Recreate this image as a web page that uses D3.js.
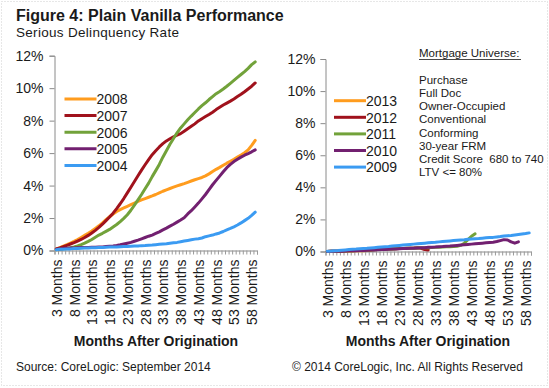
<!DOCTYPE html>
<html>
<head>
<meta charset="utf-8">
<script src="https://cdn.jsdelivr.net/npm/d3@7"></script>
<style>
  body { margin: 0; background: #fff; }
  text { font-family: "Liberation Sans", Arial, sans-serif; fill: #1a1a1a; }
</style>
</head>
<body>
<div id="chart"></div>
<script>
// month categories 3..59 (months after origination)
var months = d3.range(3, 60);
var tickMonths = [3, 8, 13, 18, 23, 28, 33, 38, 43, 48, 53, 58];
var yTicks = [0, 2, 4, 6, 8, 10, 12];

var leftNames = ["2008", "2007", "2006", "2005", "2004"];
var rightNames = ["2013", "2012", "2011", "2010", "2009"];
var colors = ["#FF9C1E", "#A0121C", "#72A23A", "#722070", "#3B9BF2"];

// serious delinquency rate, %, one value per month starting at month 3
var d2008 = [0.10,0.18,0.27,0.36,0.46,0.56,0.67,0.80,0.93,1.06,
  1.20,1.36,1.52,1.70,1.90,2.08,2.25,2.40,2.52,2.62,
  2.72,2.82,2.92,3.02,3.12,3.20,3.28,3.36,3.45,3.55,
  3.65,3.74,3.82,3.90,3.98,4.05,4.12,4.20,4.28,4.36,
  4.43,4.50,4.60,4.72,4.86,5.00,5.12,5.25,5.38,5.50,
  5.62,5.75,5.88,6.02,6.20,6.48,6.78];
var d2007 = [0.10,0.16,0.24,0.32,0.40,0.48,0.58,0.68,0.80,0.93,
  1.08,1.24,1.42,1.62,1.84,2.06,2.30,2.58,2.88,3.20,
  3.55,3.90,4.25,4.60,4.95,5.28,5.60,5.90,6.15,6.38,
  6.58,6.75,6.88,7.00,7.10,7.20,7.35,7.50,7.65,7.80,
  7.98,8.12,8.25,8.38,8.52,8.68,8.82,8.96,9.08,9.20,
  9.33,9.48,9.62,9.78,9.95,10.12,10.32];
var d2006 = [0.05,0.07,0.10,0.13,0.17,0.22,0.28,0.36,0.45,0.56,
  0.68,0.82,0.95,1.06,1.18,1.30,1.45,1.60,1.78,1.98,
  2.20,2.48,2.80,3.12,3.45,3.80,4.15,4.55,4.92,5.30,
  5.75,6.15,6.55,6.90,7.25,7.55,7.80,8.05,8.28,8.50,
  8.72,8.92,9.10,9.30,9.48,9.66,9.80,9.95,10.12,10.30,
  10.48,10.66,10.84,11.02,11.22,11.45,11.62];
var d2005 = [0.08,0.10,0.12,0.14,0.15,0.16,0.17,0.18,0.18,0.19,
  0.20,0.20,0.21,0.22,0.24,0.26,0.28,0.31,0.35,0.40,
  0.45,0.50,0.57,0.64,0.72,0.80,0.88,0.95,1.05,1.15,
  1.27,1.38,1.50,1.62,1.75,1.88,2.02,2.25,2.45,2.68,
  2.92,3.18,3.45,3.75,4.05,4.32,4.58,4.85,5.10,5.30,
  5.48,5.62,5.75,5.87,5.97,6.08,6.20];
var d2004 = [0.05,0.07,0.08,0.10,0.10,0.12,0.13,0.14,0.15,0.16,
  0.17,0.17,0.18,0.19,0.20,0.21,0.21,0.22,0.23,0.24,
  0.25,0.26,0.27,0.28,0.30,0.31,0.33,0.34,0.36,0.38,
  0.40,0.42,0.45,0.48,0.50,0.54,0.58,0.62,0.66,0.70,
  0.73,0.77,0.85,0.90,0.95,1.02,1.08,1.17,1.27,1.36,
  1.46,1.57,1.70,1.84,1.98,2.16,2.36];

var d2013 = [0.00,0.01,0.01,0.02,0.02,0.03,0.03,0.04,0.04,0.05,0.05,0.06,0.06];
var d2012 = [0.00,0.01,0.01,0.02,0.02,0.03,0.04,0.05,0.06,0.07,
  0.08,0.09,0.10,0.11,0.12,0.13,0.14,0.15,0.16,0.17,
  0.18,0.19,0.20,0.21,0.22,0.24,0.20,0.12,0.10];
var d2011 = [0.00,0.01,0.01,0.02,0.03,0.03,0.04,0.05,0.06,0.07,
  0.08,0.09,0.10,0.11,0.12,0.13,0.14,0.15,0.16,0.17,
  0.18,0.19,0.20,0.21,0.21,0.22,0.23,0.24,0.24,0.25,
  0.26,0.27,0.28,0.29,0.30,0.31,0.33,0.38,0.52,0.74,
  0.95,1.10];
var d2010 = [0.00,0.01,0.01,0.02,0.02,0.03,0.04,0.04,0.05,0.06,
  0.07,0.08,0.09,0.10,0.11,0.12,0.13,0.14,0.15,0.16,
  0.17,0.18,0.19,0.20,0.21,0.22,0.23,0.24,0.26,0.27,
  0.28,0.30,0.31,0.33,0.34,0.36,0.38,0.40,0.42,0.44,
  0.46,0.48,0.50,0.52,0.54,0.56,0.58,0.62,0.68,0.74,
  0.72,0.60,0.52,0.60];
var d2009 = [0.02,0.03,0.05,0.06,0.08,0.10,0.12,0.14,0.15,0.17,
  0.19,0.20,0.22,0.24,0.26,0.28,0.30,0.31,0.34,0.36,
  0.38,0.40,0.42,0.44,0.46,0.48,0.50,0.52,0.54,0.56,
  0.57,0.60,0.62,0.64,0.66,0.68,0.70,0.72,0.73,0.76,
  0.78,0.80,0.81,0.83,0.85,0.87,0.88,0.91,0.93,0.96,
  0.98,1.00,1.03,1.06,1.09,1.12,1.16];

var universeLines = ["Purchase", "Full Doc", "Owner-Occupied", "Conventional",
  "Conforming", "30-year FRM", "Credit Score  680 to 740", "LTV <= 80%"];

var W = 549, H = 388;
var svg = d3.select("#chart").append("svg").attr("width", W).attr("height", H);

svg.append("rect").attr("x", 1.5).attr("y", 1.5).attr("width", W - 3).attr("height", H - 4)
  .attr("fill", "#fff").attr("stroke", "#cfcfcf").attr("stroke-dasharray", "1,2");

svg.append("text").attr("x", 16).attr("y", 21)
  .style("font-size", "16px").style("font-weight", "bold")
  .text("Figure 4: Plain Vanilla Performance");
svg.append("text").attr("x", 16).attr("y", 36.5)
  .style("font-size", "13.5px").style("letter-spacing", "0.3px")
  .text("Serious Delinquency Rate");

function drawPanel(p) {
  var x = d3.scaleLinear().domain([2.5, 59.5]).range([p.x0, p.x1]);
  var y = d3.scaleLinear().domain([0, 12]).range([p.y0, p.y1]);
  var g = svg.append("g");

  // y axis
  var ya = g.append("g").attr("transform", "translate(" + p.x0 + ",0)")
    .call(d3.axisLeft(y).tickValues(yTicks).tickSize(5).tickPadding(p.yPad)
      .tickFormat(function(d) { return d + "%"; }));
  ya.select(".domain").attr("stroke", "#8a8a8a");
  ya.selectAll(".tick line").attr("stroke", "#8a8a8a");
  ya.selectAll("text").style("font-size", "14px").style("font-family", null).attr("fill", "#1a1a1a");

  // x axis: small tick at each category boundary
  var xa = g.append("g").attr("transform", "translate(0," + p.y0 + ")")
    .call(d3.axisBottom(x).tickValues(d3.range(2.5, 60, 1)).tickSize(4).tickFormat(""));
  xa.select(".domain").attr("stroke", "#8a8a8a");
  xa.selectAll(".tick line").attr("stroke", "#9a9a9a");

  var xl = g.append("g").attr("transform", "translate(0," + p.y0 + ")")
    .call(d3.axisBottom(x).tickValues(tickMonths).tickSize(0)
      .tickFormat(function(d) { return d + " Months"; }));
  xl.select(".domain").remove();
  xl.selectAll("text").style("font-size", "14px").style("font-family", null).attr("fill", "#1a1a1a")
    .attr("transform", "rotate(-90)").attr("text-anchor", "end")
    .attr("x", -9).attr("y", 0).attr("dy", "0.36em");

  g.append("text").attr("x", p.titleX).attr("y", 346).attr("text-anchor", "middle")
    .style("font-size", "14px").style("font-weight", "bold")
    .text("Months After Origination");

  var line = d3.line()
    .x(function(d, i) { return x(months[i]); })
    .y(function(d) { return y(d); });

  p.series.forEach(function(s, i) {
    g.append("path").datum(s).attr("d", line)
      .attr("fill", "none").attr("stroke", colors[i]).attr("stroke-width", 3)
      .attr("stroke-linejoin", "round").attr("stroke-linecap", "round");
  });

  // legend
  var lg = g.selectAll(".leg").data(p.names).enter().append("g")
    .attr("transform", function(d, i) { return "translate(0," + (p.legY + i * 16.6) + ")"; });
  lg.append("line").attr("x1", p.legX).attr("x2", p.legX + 32)
    .attr("stroke", function(d, i) { return colors[i]; }).attr("stroke-width", 3);
  lg.append("text").attr("x", p.legX + 32).attr("y", 5.3)
    .style("font-size", "14px").text(function(d) { return d; });
}

drawPanel({ x0: 54.5, x1: 257, y0: 250.5, y1: 55.7, yPad: 6, titleX: 156,
  series: [d2008, d2007, d2006, d2005, d2004], names: leftNames, legX: 64.5, legY: 99 });
drawPanel({ x0: 325.5, x1: 531, y0: 251.5, y1: 59, yPad: 5, titleX: 428,
  series: [d2013, d2012, d2011, d2010, d2009], names: rightNames, legX: 334, legY: 100.7 });

// mortgage universe notes
svg.append("text").attr("x", 419).attr("y", 57)
  .style("font-size", "11.5px").text("Mortgage Universe:");
svg.append("line").attr("x1", 419).attr("x2", 521).attr("y1", 59.5).attr("y2", 59.5)
  .attr("stroke", "#1a1a1a").attr("stroke-width", 0.8);
svg.selectAll(".uni").data(universeLines).enter().append("text")
  .attr("x", 419).attr("y", function(d, i) { return 84 + i * 13.15; })
  .style("font-size", "11.5px").style("white-space", "pre")
  .text(function(d) { return d; });

svg.append("text").attr("x", 16).attr("y", 371).style("font-size", "12px")
  .text("Source: CoreLogic: September 2014");
svg.append("text").attr("x", 292).attr("y", 371).style("font-size", "12px")
  .text("\u00A9 2014 CoreLogic, Inc. All Rights Reserved");
</script>
</body>
</html>
